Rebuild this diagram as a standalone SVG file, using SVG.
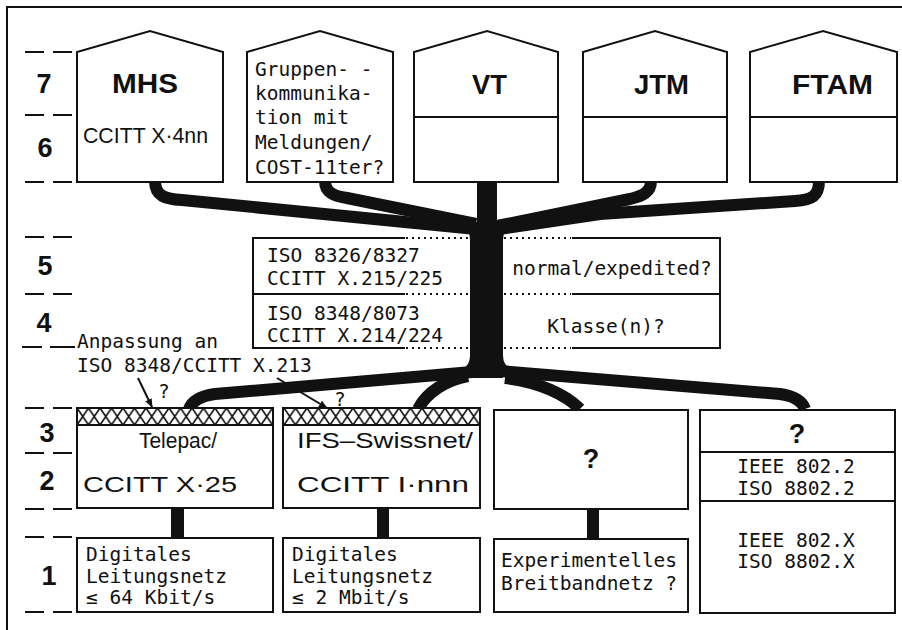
<svg xmlns="http://www.w3.org/2000/svg" width="902" height="630" viewBox="0 0 902 630">
<defs>
<style>
.bx{fill:#fff;stroke:#111;stroke-width:2}
.ln{stroke:#111;stroke-width:2;fill:none}
.dot{stroke:#111;stroke-width:2;fill:none;stroke-dasharray:2 4}
.br{stroke:#111;fill:none;stroke-width:12;stroke-linejoin:round}
.lay{font-family:"Liberation Sans",Arial,sans-serif;font-weight:bold;font-size:27px;fill:#111;text-anchor:middle}
.big{font-family:"Liberation Sans",Arial,sans-serif;font-weight:bold;font-size:27px;fill:#111}
.sans{font-family:"Liberation Sans",Arial,sans-serif;font-size:22px;fill:#111}
.mono{font-family:"DejaVu Sans Mono","Liberation Mono",monospace;font-size:19.5px;fill:#111}
.mid{text-anchor:middle}
</style>
<pattern id="hatch" patternUnits="userSpaceOnUse" x="77" y="408" width="11.5" height="17">
<rect width="11.5" height="17" fill="#fff"/>
<path d="M0,0 L11.5,17 M11.5,0 L0,17" stroke="#111" stroke-width="1.6"/>
</pattern>
<marker id="ah" viewBox="0 0 10 10" refX="9" refY="5" markerWidth="9" markerHeight="9" orient="auto" markerUnits="userSpaceOnUse">
<path d="M0,1 L10,5 L0,9 z" fill="#111"/>
</marker>
</defs>
<rect width="902" height="630" fill="#fff"/>
<path class="ln" d="M7,630 L7,7 L902,7"/>

<g id="layers">
<path class="ln" d="M25,52 H44 M53,52 H72 M25,115 H44 M53,115 H72 M25,182 H44 M53,182 H72 M25,237 H44 M53,237 H72 M25,294 H44 M53,294 H72 M22,347 H42 M50,347 H75 M25,408 H44 M53,408 H72 M25,453 H44 M53,453 H72 M25,509 H44 M53,509 H72 M25,537 H44 M53,537 H72 M25,612 H44 M53,612 H72"/>
<text class="lay" x="44" y="93">7</text>
<text class="lay" x="45" y="157">6</text>
<text class="lay" x="45" y="275">5</text>
<text class="lay" x="44" y="332">4</text>
<text class="lay" x="47" y="442">3</text>
<text class="lay" x="47" y="490">2</text>
<text class="lay" x="49" y="585">1</text>
</g>

<g id="connectors">
<path class="br" d="M155,181 C155,196 165,199 182,200 L476,229"/>
<path class="br" d="M325,181 C325,192 333,196 347,198 L476,224"/>
<path class="br" d="M651,181 C651,192 643,196 630,199 L492,227"/>
<path class="br" d="M819,181 C819,196 812,200 795,201 L600,214 L492,230"/>
<rect x="477" y="181" width="20" height="50" fill="#111"/>
<rect x="470" y="222" width="33" height="156" fill="#111"/>
<path d="M470,240 Q470,228 460,226 L470,222 Z" fill="#111"/>
<path d="M503,240 Q503,228 513,226 L503,222 Z" fill="#111"/>
<path class="br" stroke-width="13" d="M472,372 L215,394 C200,396 192,401 189,409"/>
<path class="br" d="M468,376 C446,380 427,392 418,409"/>
<path class="br" stroke-width="13" d="M500,371 L780,394 C795,396 802,401 805,409"/>
<path class="br" stroke-width="14" d="M505,378 C540,382 566,395 580,409"/>
<path d="M470,355 Q470,368 458,370 L470,374 Z" fill="#111"/>
<path d="M503,355 Q503,368 515,370 L503,374 Z" fill="#111"/>
<rect x="171" y="508" width="13" height="30" fill="#111"/>
<rect x="377" y="508" width="12" height="30" fill="#111"/>
<rect x="587" y="509" width="12" height="30" fill="#111"/>
<path class="ln" stroke-width="1.6" d="M138,378 L152,407" marker-end="url(#ah)"/>
<path class="ln" stroke-width="1.6" d="M277,378 L327,408" marker-end="url(#ah)"/>
</g>

<g id="mhs">
<polygon class="bx" points="77,182 77,52 150,31 223,52 223,182"/>
<text class="big" x="112" y="93" textLength="66" lengthAdjust="spacingAndGlyphs">MHS</text>
<text class="sans" x="83" y="143" textLength="125" lengthAdjust="spacingAndGlyphs">CCITT X·4nn</text>
</g>
<g id="gruppen">
<polygon class="bx" points="247,182 247,52 320,31 393,52 393,182"/>
<text class="mono" x="255" y="76">Gruppen- -</text>
<text class="mono" x="255" y="100">kommunika-</text>
<text class="mono" x="255" y="124">tion mit</text>
<text class="mono" x="255" y="149">Meldungen/</text>
<text class="mono" x="255" y="174">COST-11ter?</text>
</g>
<g id="vt">
<polygon class="bx" points="414,182 414,52 487,31 558,52 558,182"/>
<line class="ln" x1="414" y1="117" x2="558" y2="117"/>
<text class="big" x="472" y="94" textLength="35" lengthAdjust="spacingAndGlyphs">VT</text>
</g>
<g id="jtm">
<polygon class="bx" points="583,182 583,52 655,31 727,52 727,182"/>
<line class="ln" x1="583" y1="117" x2="727" y2="117"/>
<text class="big" x="634" y="94" textLength="55" lengthAdjust="spacingAndGlyphs">JTM</text>
</g>
<g id="ftam">
<polygon class="bx" points="750,182 750,52 823,31 897,52 897,182"/>
<line class="ln" x1="750" y1="117" x2="897" y2="117"/>
<text class="big" x="792" y="94" textLength="81" lengthAdjust="spacingAndGlyphs">FTAM</text>
</g>

<g id="session-transport">
<path class="ln" d="M405,238 H253 V348 H405 M253,294 H405 M572,238 H720 V348 H572 M572,294 H720"/>
<path class="dot" d="M406,238 H470 M406,294 H470 M406,348 H470 M504,238 H571 M504,294 H571 M504,348 H571"/>
<text class="mono" x="267" y="262">ISO 8326/8327</text>
<text class="mono" x="267" y="285">CCITT X.215/225</text>
<text class="mono" x="267" y="320">ISO 8348/8073</text>
<text class="mono" x="267" y="342">CCITT X.214/224</text>
<text class="mono mid" x="612" y="275">normal/expedited?</text>
<text class="mono mid" x="606" y="333">Klasse(n)?</text>
</g>

<g id="anpassung">
<text class="mono" x="77" y="348">Anpassung an</text>
<text class="mono" x="77" y="372">ISO 8348/CCITT X.213</text>
<text class="mono" x="158" y="398" font-size="21">?</text>
<text class="mono" x="334" y="406" font-size="21">?</text>
</g>

<g id="telepac">
<rect class="bx" x="77" y="408" width="196" height="100"/>
<rect x="77" y="408" width="196" height="17" fill="url(#hatch)" stroke="#111" stroke-width="2"/>
<text class="sans" x="139" y="448" textLength="78" lengthAdjust="spacingAndGlyphs">Telepac/</text>
<text class="sans" x="83" y="492" font-size="23" textLength="154" lengthAdjust="spacingAndGlyphs">CCITT X·25</text>
</g>
<g id="ifs">
<rect class="bx" x="283" y="408" width="197" height="100"/>
<rect x="283" y="408" width="197" height="17" fill="url(#hatch)" stroke="#111" stroke-width="2"/>
<text class="sans" x="297" y="448" textLength="176" lengthAdjust="spacingAndGlyphs">IFS–Swissnet/</text>
<text class="sans" x="297" y="492" font-size="23" textLength="172" lengthAdjust="spacingAndGlyphs">CCITT I·nnn</text>
</g>
<g id="unknown">
<rect class="bx" x="494" y="410" width="194" height="99"/>
<text class="big mid" x="591" y="468">?</text>
</g>
<g id="lan">
<rect class="bx" x="700" y="410" width="195" height="203"/>
<line class="ln" x1="700" y1="452" x2="895" y2="452"/>
<line class="ln" x1="700" y1="501" x2="895" y2="501"/>
<text class="big mid" x="797" y="443">?</text>
<text class="mono mid" x="796" y="473">IEEE 802.2</text>
<text class="mono mid" x="796" y="495">ISO 8802.2</text>
<text class="mono mid" x="796" y="547">IEEE 802.X</text>
<text class="mono mid" x="796" y="568">ISO 8802.X</text>
</g>

<g id="dig64">
<rect class="bx" x="77" y="538" width="196" height="74"/>
<text class="mono" x="86" y="561">Digitales</text>
<text class="mono" x="86" y="583">Leitungsnetz</text>
<text class="mono" x="86" y="604">≤ 64 Kbit/s</text>
</g>
<g id="dig2">
<rect class="bx" x="283" y="538" width="197" height="74"/>
<text class="mono" x="292" y="561">Digitales</text>
<text class="mono" x="292" y="583">Leitungsnetz</text>
<text class="mono" x="292" y="604">≤ 2 Mbit/s</text>
</g>
<g id="breitband">
<rect class="bx" x="494" y="539" width="194" height="73"/>
<text class="mono" x="501" y="567">Experimentelles</text>
<text class="mono" x="501" y="590">Breitbandnetz ?</text>
</g>
</svg>
